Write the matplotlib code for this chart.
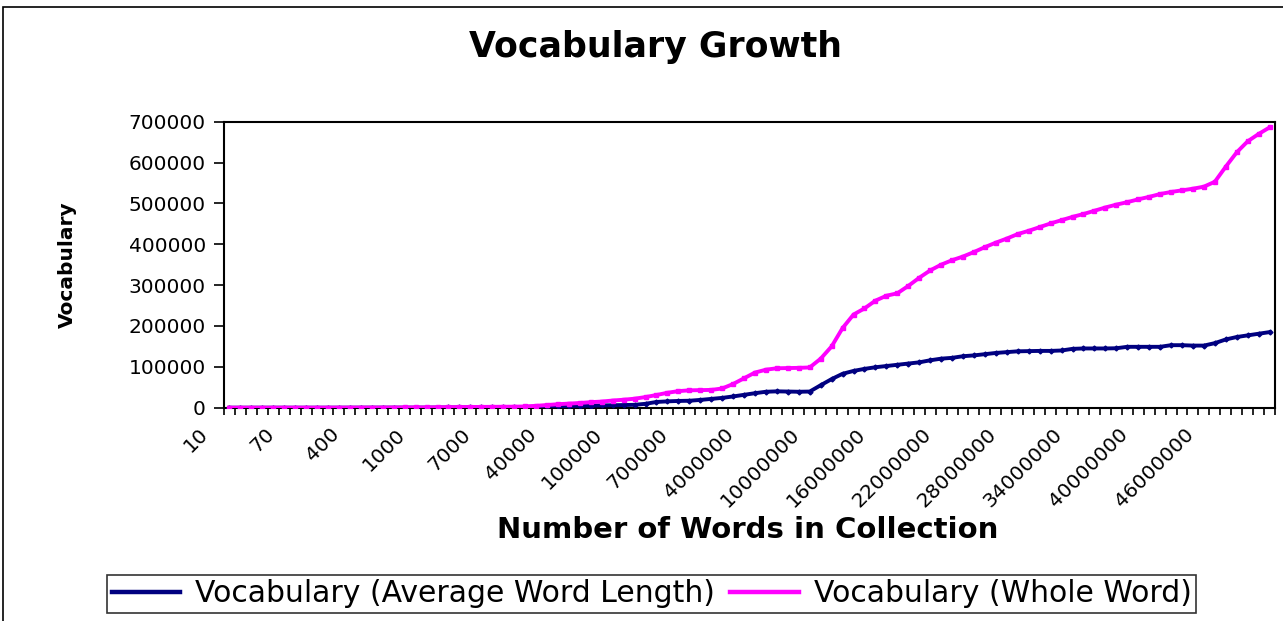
import matplotlib.pyplot as plt
import matplotlib.transforms as mtransforms
from matplotlib.patches import Rectangle
import numpy as np

plt.rcParams['font.family'] = ['DejaVu Sans']

# categories: number of words in collection
words = ([10, 20, 30, 40, 50, 60, 70, 80, 90,
          100, 200, 300, 400, 500, 600, 700, 800, 900,
          1000, 2000, 3000, 4000, 5000, 6000, 7000, 8000, 9000,
          10000, 20000, 30000, 40000, 50000, 60000, 70000, 80000, 90000,
          100000, 200000, 300000, 400000, 500000, 600000, 700000, 800000, 900000,
          1000000, 2000000, 3000000, 4000000, 5000000, 6000000, 7000000, 8000000, 9000000]
         + [m * 1000000 for m in range(10, 52)])

vocab_whole = [10, 20, 28, 37, 45, 53, 60, 67, 74,
               80, 150, 210, 270, 320, 370, 420, 470, 510,
               550, 900, 1200, 1450, 1700, 1900, 2100, 2300, 2500,
               3000, 4500, 6500, 8500, 10000, 11500, 13500, 15000, 17500,
               19500, 22000, 26000, 31000, 36500, 40500, 42500, 43000, 43500,
               47000, 58000, 72000, 86000, 93000, 96500, 97000, 97500, 98500,
               120000, 150000, 195000, 228000, 243000, 262000, 274000, 280000, 298000, 318000,
               336000, 350000, 361000, 370000, 381000, 393000, 404000, 414000, 425000, 433000,
               442000, 451000, 459000, 467000, 474000, 482000, 490000, 497000, 503000, 510000,
               516000, 523000, 528000, 532000, 536000, 541000, 553000, 590000, 625000, 652000,
               670000, 686000]

vocab_avg_len = [5, 10, 14, 18, 22, 25, 28, 31, 34,
                 36, 70, 100, 130, 150, 175, 200, 220, 240,
                 260, 420, 560, 680, 800, 900, 1000, 1100, 1200,
                 1800, 2500, 3000, 3500, 4000, 4500, 5000, 5500, 6000,
                 6500, 7000, 9500, 14000, 15500, 16500, 17000, 19000, 21500,
                 24000, 27500, 31500, 35500, 39000, 40000, 39500, 39000, 39500,
                 55000, 70000, 83000, 90000, 95000, 99000, 102000, 105000, 108000, 111000,
                 116000, 120000, 122000, 126000, 128000, 131000, 134000, 136000, 138000, 138500,
                 139000, 139000, 140000, 144000, 145000, 145000, 145000, 145500, 149000, 149000,
                 149000, 149000, 153000, 153000, 152000, 152000, 158000, 167000, 173000, 177000,
                 181000, 185000]

yticks = list(range(0, 700001, 100000))
label_every = 6

fig = plt.figure(figsize=(12.83, 6.21), dpi=100)
ax = fig.add_axes([0.1746, 0.3435, 0.9938 - 0.1746, 0.804 - 0.3435])

# chart area border (left and top visible)
fig.patches.append(Rectangle((3 / 1283, -0.1), 1.2, (621 - 7) / 621 + 0.1,
                             transform=fig.transFigure, fill=False,
                             edgecolor='black', linewidth=1.2))

x = np.arange(len(words))
ax.plot(x, vocab_avg_len, color='#000080', linewidth=2.8, marker='D', markersize=2.5,
        label='Vocabulary (Average Word Length)', zorder=3)
ax.plot(x, vocab_whole, color='#FF00FF', linewidth=2.8, marker='s', markersize=2.5,
        label='Vocabulary (Whole Word)', zorder=4)

ax.set_xlim(-0.5, len(words) - 0.5)
ax.set_ylim(0, 700000)
ax.set_yticks(yticks)
ax.set_yticklabels([str(v) for v in yticks], fontsize=14.5)
ax.tick_params(axis='y', direction='out', length=7, width=1.2, pad=6)

# tick marks between categories, labels on every 6th category
ax.set_xticks(np.arange(len(words) + 1) - 0.5)
ax.set_xticklabels([])
ax.tick_params(axis='x', which='major', direction='out', length=5, width=1.2)
lab_pos = x[::label_every]
ax.set_xticks(lab_pos, minor=True)
ax.set_xticklabels([str(words[i]) for i in lab_pos], minor=True, fontsize=14.5,
                   rotation=45, ha='right', va='center', rotation_mode='anchor')
ax.tick_params(axis='x', which='minor', length=0, pad=17)
shift = mtransforms.ScaledTranslation(-0.24, 0, fig.dpi_scale_trans)
for lbl in ax.get_xticklabels(minor=True):
    lbl.set_transform(lbl.get_transform() + shift)

for sp in ax.spines.values():
    sp.set_linewidth(1.5)

ax.set_ylabel('Vocabulary', fontsize=14.5, fontweight='bold')
ax.yaxis.set_label_coords(-0.14, 0.5)
fig.text(0.511, 0.925, 'Vocabulary Growth', ha='center', va='center',
         fontsize=25, fontweight='bold')
fig.text(0.583, 0.146, 'Number of Words in Collection', ha='center', va='center',
         fontsize=21, fontweight='bold')

leg = fig.legend(loc='center', bbox_to_anchor=(0.508, 0.0435), ncol=2, fontsize=21.5,
                 frameon=True, fancybox=False, edgecolor='black', handlelength=2.3,
                 columnspacing=0.5, handletextpad=0.5, borderpad=0.15,
                 borderaxespad=0)
leg.get_frame().set_linewidth(1.2)
for h in leg.legend_handles:
    h.set_marker('')
    h.set_linewidth(3.2)

fig.savefig('out.png', dpi=100)
